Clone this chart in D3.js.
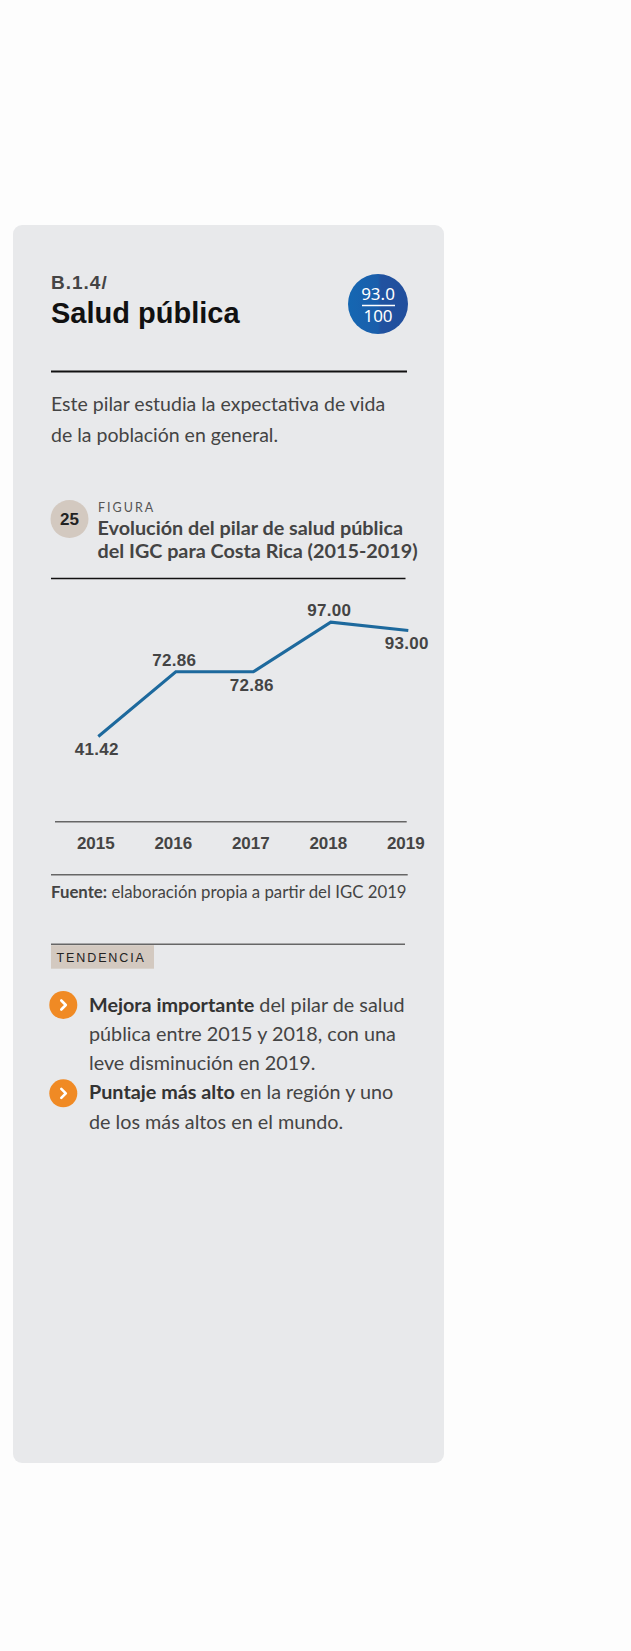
<!DOCTYPE html>
<html><head><meta charset="utf-8">
<script src="https://cdn.jsdelivr.net/npm/d3@7"></script>
<style>
html,body{margin:0;padding:0;background:#fdfdfd;}
svg{display:block;}
</style></head>
<body>
<script>
// ---- data ----
const years = ["2015", "2016", "2017", "2018", "2019"];
const values = [41.42, 72.86, 72.86, 97.00, 93.00];
const labelSide = ["below", "above", "below", "above", "below"];
const yDomain = [0, 100];
const scoreText = "93.0";
const scoreMax = "100";
const descLines = ["Este pilar estudia la expectativa de vida", "de la población en general."];
const titleLines = ["Evolución del pilar de salud pública", "del IGC para Costa Rica (2015-2019)"];
const bullets = [
  [[["Mejora importante", true], [" del pilar de salud", false]], [["pública entre 2015 y 2018, con una", false]], [["leve disminución en 2019.", false]]],
  [[["Puntaje más alto", true], [" en la región y uno", false]], [["de los más altos en el mundo.", false]]]
];

const W = 631, H = 1651;
const svg = d3.select("body").append("svg").attr("width", W).attr("height", H);
const defs = svg.append("defs");
const grad = defs.append("linearGradient").attr("id", "badge").attr("x1", "0").attr("x2", "1").attr("y1", "0").attr("y2", "0");
grad.append("stop").attr("offset", "0").attr("stop-color", "#1567b2");
grad.append("stop").attr("offset", "0.5").attr("stop-color", "#1a5eab");
grad.append("stop").attr("offset", "0.55").attr("stop-color", "#2152a0");
grad.append("stop").attr("offset", "1").attr("stop-color", "#214e9c");

svg.append("rect").attr("width", W).attr("height", H).attr("fill", "#fdfdfd");
// card
svg.append("rect").attr("x", 13).attr("y", 225).attr("width", 431).attr("height", 1238).attr("rx", 9).attr("fill", "#e8e9eb");

const HUM = "Lato, 'Noto Sans', sans-serif";
const ARI = "'Liberation Sans', Arial, sans-serif";

// header
svg.append("text").attr("x", 51).attr("y", 289).text("B.1.4/")
  .attr("font-family", ARI).attr("font-weight", 700).attr("font-size", 19).attr("letter-spacing", 1).attr("fill", "#444");
svg.append("text").attr("x", 51).attr("y", 323).text("Salud pública")
  .attr("font-family", ARI).attr("font-weight", 700).attr("font-size", 29).attr("fill", "#111");

// badge
svg.append("circle").attr("cx", 378).attr("cy", 304).attr("r", 30).attr("fill", "url(#badge)");
svg.append("text").attr("x", 378).attr("y", 300).attr("text-anchor", "middle").text(scoreText)
  .attr("font-family", "'Noto Sans', sans-serif").attr("font-size", 17).attr("fill", "#fff");
svg.append("line").attr("x1", 362).attr("x2", 395).attr("y1", 305.5).attr("y2", 305.5).attr("stroke", "#fff").attr("stroke-width", 1.3);
svg.append("text").attr("x", 378).attr("y", 322).attr("text-anchor", "middle").text(scoreMax)
  .attr("font-family", "'Noto Sans', sans-serif").attr("font-size", 17).attr("fill", "#fff");

svg.append("line").attr("x1", 51).attr("x2", 407).attr("y1", 371.5).attr("y2", 371.5).attr("stroke", "#111").attr("stroke-width", 2);

// description
svg.append("g").selectAll("text").data(descLines).join("text")
  .attr("x", 51).attr("y", (d, i) => 410.7 + i * 31).text(d => d)
  .attr("font-family", HUM).attr("font-size", 19.5).attr("fill", "#444");

// figure header
svg.append("circle").attr("cx", 69.5).attr("cy", 519).attr("r", 19).attr("fill", "#d3c9c0");
svg.append("text").attr("x", 69.5).attr("y", 525).attr("text-anchor", "middle").text("25")
  .attr("font-family", ARI).attr("font-weight", 700).attr("font-size", 17).attr("fill", "#222");
svg.append("text").attr("x", 98).attr("y", 512.3).text("FIGURA")
  .attr("font-family", HUM).attr("font-size", 12.5).attr("letter-spacing", 2).attr("fill", "#555");
svg.append("g").selectAll("text").data(titleLines).join("text")
  .attr("x", 97.5).attr("y", (d, i) => 535 + i * 23).text(d => d)
  .attr("font-family", HUM).attr("font-weight", 700).attr("font-size", 19.8).attr("fill", "#444");
svg.append("line").attr("x1", 51).attr("x2", 405.5).attr("y1", 578.5).attr("y2", 578.5).attr("stroke", "#111").attr("stroke-width", 1.3);

// chart
const x = d3.scalePoint().domain(years).range([98.3, 408.3]);
const y = d3.scaleLinear().domain(yDomain).range([821.7, 616]);

const axis = svg.append("g").attr("transform", "translate(-3," + y(0) + ")")
  .call(d3.axisBottom(x).tickSize(0).tickPadding(15));
axis.select(".domain").remove();
axis.selectAll("text").attr("font-family", ARI).attr("font-weight", 700).attr("font-size", 17).attr("fill", "#444");
svg.append("line").attr("x1", 55).attr("x2", 406.7).attr("y1", y(0)).attr("y2", y(0)).attr("stroke", "#666").attr("stroke-width", 1.5);

const pts = years.map((yr, i) => ({ yr, v: values[i], side: labelSide[i] }));
svg.append("path").datum(pts)
  .attr("d", d3.line().x(d => x(d.yr)).y(d => y(d.v)))
  .attr("fill", "none").attr("stroke", "#1d699d").attr("stroke-width", 3);

svg.append("g").selectAll("text").data(pts).join("text")
  .attr("x", d => x(d.yr) - 1.5)
  .attr("y", d => d.side === "above" ? y(d.v) - 6 : y(d.v) + 19)
  .attr("text-anchor", "middle").text(d => d.v.toFixed(2))
  .attr("font-family", ARI).attr("font-weight", 700).attr("font-size", 17).attr("letter-spacing", 0.3).attr("fill", "#444");

svg.append("line").attr("x1", 51).attr("x2", 407.7).attr("y1", 874.7).attr("y2", 874.7).attr("stroke", "#666").attr("stroke-width", 1.5);

// source
const src = svg.append("text").attr("x", 51).attr("y", 898.3).attr("font-family", HUM).attr("font-size", 16.8).attr("fill", "#444");
src.append("tspan").attr("font-weight", 700).text("Fuente:");
src.append("tspan").text(" elaboración propia a partir del IGC 2019");

// tendencia
svg.append("line").attr("x1", 51).attr("x2", 405).attr("y1", 944.3).attr("y2", 944.3).attr("stroke", "#666").attr("stroke-width", 1.5);
svg.append("rect").attr("x", 51).attr("y", 945.2).attr("width", 103).attr("height", 23.5).attr("fill", "#d3c9c0");
svg.append("text").attr("x", 56.5).attr("y", 961.7).text("TENDENCIA")
  .attr("font-family", ARI).attr("font-size", 12.5).attr("letter-spacing", 1.9).attr("fill", "#222");

// bullets
const bulletY = [1005, 1093.3];
const lineY0 = [1011.7, 1099.3];
const LH = 29.3;
bullets.forEach((b, bi) => {
  const g = svg.append("g");
  g.append("circle").attr("cx", 63.3).attr("cy", bulletY[bi]).attr("r", 14).attr("fill", "#f08a24");
  g.append("path").attr("d", `M${61.3},${bulletY[bi] - 4.5} L${65.8},${bulletY[bi]} L${61.3},${bulletY[bi] + 4.5}`)
    .attr("fill", "none").attr("stroke", "#fff").attr("stroke-width", 2.6).attr("stroke-linecap", "round").attr("stroke-linejoin", "round");
  b.forEach((ln, li) => {
    const t = g.append("text").attr("x", 89).attr("y", lineY0[bi] + li * LH)
      .attr("font-family", HUM).attr("font-size", 19.8).attr("fill", "#444");
    ln.forEach(([s, bold]) => {
      t.append("tspan").text(s).attr("font-weight", bold ? 700 : 400).attr("fill", bold ? "#333" : "#444");
    });
  });
});
</script>
</body></html>
